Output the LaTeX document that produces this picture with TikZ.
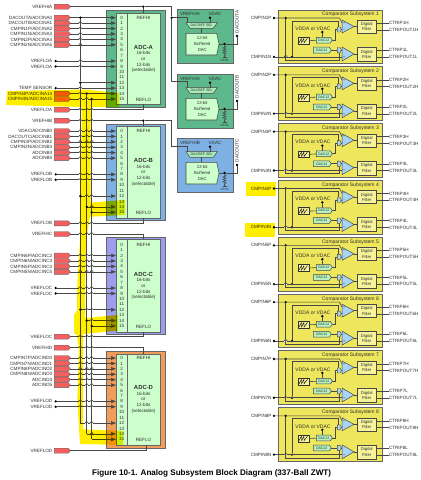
\documentclass[tikz,border=0pt]{standalone}
\usepackage{fontspec}
\setmainfont{Liberation Sans}
\usetikzlibrary{shapes.symbols,arrows.meta}
\definecolor{wirec}{HTML}{484848}
\definecolor{txtc}{HTML}{303030}
\definecolor{adcA}{HTML}{5DB88C}
\definecolor{adcB}{HTML}{7DB1E3}
\definecolor{adcC}{HTML}{9D9DF0}
\definecolor{adcD}{HTML}{F09D5A}
\definecolor{lgreen}{HTML}{CCFFCC}
\definecolor{pinred}{HTML}{F4605F}
\definecolor{pinorg}{HTML}{FF6A20}
\definecolor{subfill}{HTML}{EEE65C}
\definecolor{filtfill}{HTML}{F7F39A}
\definecolor{compfill}{HTML}{A8D4F6}
\definecolor{hl}{HTML}{FFEE00}
\tikzset{
  wire/.style={draw=wirec,line width=0.6pt},
  arr/.style={-{Stealth[length=5pt,width=3.6pt,inset=0pt]}},
  blockline/.style={draw=black!60,line width=0.8pt},
  pinnode/.style={signal,signal to=east,signal pointer angle=95,draw=black!60,line width=0.4pt,fill=pinred,minimum width=16pt,minimum height=5pt,inner sep=0pt,outer sep=0pt},
  dotn/.style={circle,fill=black,minimum size=2.6pt,inner sep=0pt,outer sep=0pt},
  lab/.style={inner sep=0pt,outer sep=0pt,text=txtc,font=\fontsize{4.6}{5}\selectfont},
  small/.style={inner sep=0pt,outer sep=0pt,text=txtc,font=\fontsize{4.6}{5}\selectfont},
  tiny/.style={inner sep=0pt,outer sep=0pt,text=txtc,font=\fontsize{3.5}{4}\selectfont},
  hlmark/.style={fill=hl,draw=none,blend mode=multiply},
}
\newcommand{\hopat}[2]{\fill[white] ({#1-1.6},{#2-0.6}) rectangle ({#1+1.6},{#2+0.6});
  \draw[wire] ({#1-1.6},{#2}) .. controls ({#1-1.6},{#2-2.1}) and ({#1+1.6},{#2-2.1}) .. ({#1+1.6},{#2});}
% ADC block: letter, top, bottom, inner top, inner bottom, y of channel 0, colour
\newcommand{\adcblock}[7]{
  \node[blockline,fill=#7,minimum width=59.3pt,minimum height={#3-#2},inner sep=0pt,anchor=north west] (out#1) at (105.7,#2) {};
  \node[blockline,fill=lgreen,minimum width=44pt,minimum height={#5-#4},inner sep=0pt,anchor=north west] (in#1) at (116,#4) {};
  \draw[blockline] (127.3,#4) -- (127.3,#5);
  \foreach \i in {0,...,15}{
    \pgfmathsetmacro\yy{#6+\i*5.42}
    \coordinate (#1-ch\i) at (116,\yy);
    \node[small] (#1-n\i) at (121.7,\yy) {\i};
  }
  \node[small] (#1-hi) at (143.5,{#6}) {REFHI};
  \node[inner sep=0pt,text=txtc,font=\fontsize{5.9}{6}\selectfont\bfseries] (#1-t) at (143.5,{#6+29.5}) {ADC-#1};
  \node[small] (#1-a) at (143.5,{#6+35.5}) {16-bits};
  \node[small] (#1-b) at (143.5,{#6+41.3}) {or};
  \node[small] (#1-c) at (143.5,{#6+47.2}) {12-bits};
  \node[small] (#1-d) at (143.5,{#6+53}) {(selectable)};
  \node[small] (#1-lo) at (143.5,{#6+81.8}) {REFLO};
}
\newcommand{\pinlab}[4][pinred]{
  \node[pinnode,fill=#1] (#2) at (61.3,{#3}) {};
  \node[lab,anchor=east] (#2-l) at (52.3,{#3}) {#4};
}
\newcommand{\dotlab}[3]{
  \node[dotn] (#1) at (55.7,{#2}) {};
  \node[lab,anchor=east] (#1-l) at (52.3,{#2}) {#3};
}
% DAC block: number, y shift, fill, vref label, output label
\newcommand{\dacblock}[5]{
  \begin{scope}[shift={(0,#2)}]
    \node[blockline,fill=#3,minimum width=55.4pt,minimum height=54pt,inner sep=0pt,anchor=north west] (dac#1) at (177.3,9.3) {};
    \node[small] (dac#1-r) at (190,13.5) {#4};
    \node[small] (dac#1-v) at (215,13.5) {VDAC};
    \node[dotn] (dac#1-vd) at (210,17.7) {};
    \coordinate (dac#1-mt) at (186.8,22.7);
    \coordinate (dac#1-mv) at (210,22.7);
    \filldraw[wirec,fill=lgreen!70!adcA,line width=0.5pt] (186,22.7) -- (217.3,22.7) -- (213.3,28.3) -- (190,28.3) -- cycle;
    \node[tiny] (dac#1-s) at (201.7,25.5) {DACREF SEL};
    \draw[wire] (dac#1-vd) -- (dac#1-mv);
    \draw[wire] (201.7,28.3) -- (201.7,33.3);
    \filldraw[wirec,fill=lgreen,line width=0.55pt] (186,33.3) -- (216.7,33.3) -- (219,44) -- (216.7,55) -- (186,55) -- cycle;
    \node[inner sep=0pt,text=txtc,align=center,font=\fontsize{4.3}{6.2}\selectfont] (dac#1-b) at (202.3,44) {12-bit\\Buffered\\DAC};
    \node[dotn] (dac#1-o) at (224.5,44) {};
    \node[dotn] (dac#1-p) at (237,36) {};
    \draw[wire] (219,44) -- (dac#1-o) -- (237,44) -- (dac#1-p);
    \node[inner sep=0pt,text=txtc,rotate=90,anchor=west,font=\fontsize{4.7}{5}\selectfont] (dac#1-q) at (237,33.5) {#5};
    \draw[wire] (dac#1-o) -- (224.5,46) -- (226,46.8) -- (223,48) -- (226,49.2) -- (223,50.4) -- (226,51.6) -- (223,52.8) -- (226,54) -- (224.5,55) -- (224.5,57.5);
    \draw[wire] (222.5,57.5) -- (226.5,57.5);
    \node[inner sep=0pt,text=txtc,font=\fontsize{3.1}{4}\selectfont] (dac#1-g) at (224.5,60.8) {VSSA};
  \end{scope}
}
% comparator subsystem: number, y shift
\newcommand{\cmpss}[2]{
  \begin{scope}[shift={(0,#2)}]
    \node[blockline,fill=subfill,minimum width=103.7pt,minimum height=53.8pt,inner sep=0pt,anchor=north west] (cs#1) at (278,9.5) {};
    \node[inner sep=0pt,text=txtc,anchor=east,font=\fontsize{5}{6}\selectfont] (cs#1-t) at (379,14.7) {Comparator Subsystem #1};
    \node[dotn] (cs#1-p) at (274,18) {};
    \node[dotn] (cs#1-n) at (274,56.8) {};
    \node[lab,anchor=east] (cs#1-pl) at (271.5,18) {CMPIN#1P};
    \node[lab,anchor=east] (cs#1-nl) at (271.5,56.8) {CMPIN#1N};
    \node[dotn] (cs#1-a) at (285.7,18) {};
    \node[dotn] (cs#1-b) at (292,56.8) {};
    \draw[wire] (cs#1-p) -- (339.5,18) -- (342,23);
    \draw[wire] (cs#1-n) -- (342,56.8);
    \hopat{285.7}{56.8}
    \draw[wire] (cs#1-a) -- (285.7,60) -- (339,60) -- (339,53);
    \draw[wire] (cs#1-b) -- (292,20.8) -- (338.5,20.8) -- (338.5,27);
    \draw[wire] (332.3,40) -- (335,40) -- (335,29.5) -- (337.3,29.5);
    \draw[wire] (331.3,50) -- (337.3,50);
    \filldraw[wirec,fill=compfill,line width=0.45pt] (337.3,27) -- (340,27) -- (341.3,29.5) -- (340,32) -- (337.3,32) -- cycle;
    \filldraw[wirec,fill=compfill,line width=0.45pt] (337.3,47.5) -- (340,47.5) -- (341.3,50) -- (340,52.8) -- (337.3,52.8) -- cycle;
    \draw[wire] (341.3,29.5) -- (342.5,29.5);
    \draw[wire] (341.3,50) -- (342.5,50);
    \filldraw[wirec,fill=compfill,line width=0.5pt] (342,20) -- (354,26.5) -- (342,33) -- cycle;
    \filldraw[wirec,fill=compfill,line width=0.5pt] (342,47) -- (354,54) -- (342,61) -- cycle;
    \node[tiny] (cs#1-s1) at (344.2,23.3) {+};
    \node[tiny] (cs#1-s2) at (344.2,29.7) {-};
    \node[tiny] (cs#1-s3) at (344.2,50.3) {-};
    \node[tiny] (cs#1-s4) at (344.2,57.3) {+};
    \draw[wire] (354,26.5) -- (357,26.5);
    \draw[wire] (354,54) -- (357,54);
    \node[draw=wirec,line width=0.5pt,fill=filtfill,minimum width=19.5pt,minimum height=13pt,inner sep=0pt,anchor=north west,align=center,text=txtc,font=\fontsize{4.2}{5.4}\selectfont] (cs#1-f1) at (356.7,20) {Digital\\Filter};
    \node[draw=wirec,line width=0.5pt,fill=filtfill,minimum width=19.5pt,minimum height=14pt,inner sep=0pt,anchor=north west,align=center,text=txtc,font=\fontsize{4.2}{5.4}\selectfont] (cs#1-f2) at (356.7,47) {Digital\\Filter};
    \node[lab,anchor=west] (cs#1-o1) at (389,23) {CTRIP#1H};
    \node[lab,anchor=west] (cs#1-o2) at (389,29.8) {CTRIPOUT#1H};
    \node[lab,anchor=west] (cs#1-o3) at (389,50.2) {CTRIP#1L};
    \node[lab,anchor=west] (cs#1-o4) at (389,57) {CTRIPOUT#1L};
    \draw[wire] (376.2,23) -- (cs#1-o1.west);
    \draw[wire] (376.2,29.8) -- (cs#1-o2.west);
    \draw[wire] (376.2,50.2) -- (cs#1-o3.west);
    \draw[wire] (376.2,57) -- (cs#1-o4.west);
    \node[inner sep=0pt,text=txtc,font=\fontsize{5}{6}\selectfont] (cs#1-v) at (313,28.6) {VDDA or VDAC};
    \node[dotn] (cs#1-vd) at (322.3,32) {};
    \draw[wire] (cs#1-vd) -- (322.3,37.3);
    \node[draw=black!80,line width=0.5pt,fill=filtfill,minimum width=10.5pt,minimum height=6.8pt,inner sep=0pt,anchor=north west] (cs#1-r) at (298,37) {};
    \draw[black,line width=0.45pt] (299,42.8) -- (301.5,38.3) -- (301.5,42.8) -- (304,38.3) -- (304,42.8) -- (307.5,38.3);
    \draw[wire] (cs#1-r.east) -- (316.3,40.3);
    \filldraw[wirec,fill=lgreen!80!adcA,line width=0.5pt] (316.3,37.3) -- (330.3,37.3) -- (332.3,40) -- (330.3,43) -- (316.3,43) -- cycle;
    \node[tiny] (cs#1-d1) at (323.7,40.2) {DAC12};
    \filldraw[wirec,fill=lgreen!80!adcA,line width=0.5pt] (313.3,47.2) -- (329.3,47.2) -- (331.3,50) -- (329.3,53) -- (313.3,53) -- cycle;
    \node[tiny] (cs#1-d2) at (321.7,50.2) {DAC12};
  \end{scope}
}
\begin{document}
\begin{tikzpicture}[x=1pt,y=-1pt]
\useasboundingbox (0,0) rectangle (421,480);
\fill[white] (0,0) rectangle (421,480);

% ADC blocks
\adcblock{A}{10}{106.7}{12.7}{104.3}{17.7}{adcA}
\adcblock{B}{124}{220}{126.3}{217.7}{131}{adcB}
\adcblock{C}{236.7}{334.3}{239.3}{331.7}{244.7}{adcC}
\adcblock{D}{351}{448}{353.5}{445}{358}{adcD}

% ADC-A inputs
\pinlab{vha}{6.7}{VREFHIA}
\foreach \n/\c/\t in {a0/0/DACOUTA\slash ADCINA0,a1/1/DACOUTB\slash ADCINA1,a2/2/CMPIN1P\slash ADCINA2,a3/3/CMPIN1N\slash ADCINA3,a4/4/CMPIN2P\slash ADCINA4,a5/5/CMPIN2N\slash ADCINA5}{
  \pgfmathsetmacro\yy{17.7+\c*5.42}
  \pinlab{\n}{\yy}{\t}
  \draw[wire,arr] (\n.east) -- (A-ch\c);
}
\foreach \n/\c in {ra8/8,ra9/9}{
  \pgfmathsetmacro\yy{17.7+\c*5.42}
  \dotlab{\n}{\yy}{VREFLOA}
  \draw[wire,arr] (\n) -- (A-ch\c);
}
\pgfmathsetmacro\yy{17.7+13*5.42}
\dotlab{ts}{\yy}{TEMP SENSOR}
\draw[wire,arr] (ts) -- (A-ch13);
\pgfmathsetmacro\yy{17.7+14*5.42}
\pinlab[pinred]{a14}{\yy}{CMPIN4P\slash ADCINA14}
\draw[wire,arr] (a14.east) -- (A-ch14);
\pgfmathsetmacro\yy{17.7+15*5.42}
\pinlab[pinorg]{a15}{\yy}{CMPIN4N\slash ADCINA15}
\draw[wire,arr] (a15.east) -- (A-ch15);
\pinlab{vla}{109.7}{VREFLOA}
\draw[wire] (vla.east) -- (143.3,109.7) -- (143.3,104.3);

% ADC-B inputs
\pinlab{vhb}{120.7}{VREFHIB}
\foreach \n/\c/\t in {b0/0/VDAC\slash ADCINB0,b1/1/DACOUTC\slash ADCINB1,b2/2/CMPIN3P\slash ADCINB2,b3/3/CMPIN3N\slash ADCINB3,b4/4/ADCINB4,b5/5/ADCINB5}{
  \pgfmathsetmacro\yy{131+\c*5.42}
  \pinlab{\n}{\yy}{\t}
  \draw[wire,arr] (\n.east) -- (B-ch\c);
}
\foreach \n/\c in {rb8/8,rb9/9}{
  \pgfmathsetmacro\yy{131+\c*5.42}
  \dotlab{\n}{\yy}{VREFLOB}
  \draw[wire,arr] (\n) -- (B-ch\c);
}
\pinlab{vlb}{223.3}{VREFLOB}
\draw[wire] (vlb.east) -- (143.3,223.3) -- (143.3,217.7);

% ADC-C inputs
\pinlab{vhc}{234}{VREFHIC}
\draw[wire] (vhc.east) -- (143.3,234) -- (143.3,239.3);
\foreach \n/\c/\t in {c2/2/CMPIN6P\slash ADCINC2,c3/3/CMPIN6N\slash ADCINC3,c4/4/CMPIN5P\slash ADCINC4,c5/5/CMPIN5N\slash ADCINC5}{
  \pgfmathsetmacro\yy{244.7+\c*5.42}
  \pinlab{\n}{\yy}{\t}
  \draw[wire,arr] (\n.east) -- (C-ch\c);
}
\foreach \n/\c in {rc8/8,rc9/9}{
  \pgfmathsetmacro\yy{244.7+\c*5.42}
  \dotlab{\n}{\yy}{VREFLOC}
  \draw[wire,arr] (\n) -- (C-ch\c);
}
\pinlab{vlc}{336.7}{VREFLOC}
\draw[wire] (vlc.east) -- (143.3,336.7) -- (143.3,331.7);

% ADC-D inputs
\pinlab{vhd}{347.7}{VREFHID}
\draw[wire] (vhd.east) -- (143.3,347.7) -- (143.3,353.5);
\foreach \n/\c/\t in {d0/0/CMPIN7P\slash ADCIND0,d1/1/CMPIN7N\slash ADCIND1,d2/2/CMPIN8P\slash ADCIND2,d3/3/CMPIN8N\slash ADCIND3,d4/4/ADCIND4,d5/5/ADCIND5}{
  \pgfmathsetmacro\yy{358+\c*5.42}
  \pinlab{\n}{\yy}{\t}
  \draw[wire,arr] (\n.east) -- (D-ch\c);
}
\foreach \n/\c in {rd8/8,rd9/9}{
  \pgfmathsetmacro\yy{358+\c*5.42}
  \dotlab{\n}{\yy}{VREFLOD}
  \draw[wire,arr] (\n) -- (D-ch\c);
}
\pinlab{vld}{450.7}{VREFLOD}
\draw[wire] (vld.east) -- (146,450.7) -- (146,445);

% DAC blocks
\dacblock{1}{0}{adcA}{VREFHIA}{DACOUTA}
\dacblock{2}{65}{adcA}{VREFHIA}{DACOUTB}
\dacblock{3}{129}{adcB}{VREFHIB}{DACOUTC}

% reference routing
\node[dotn] (ha) at (143.3,6.7) {};
\node[dotn] (hb) at (143.3,120.7) {};
\node[dotn] (hr) at (171.7,17.7) {};
\draw[wire] (vha.east) -- (ha) -- (171.7,6.7) -- (hr) -- (171.7,81) -- (186.8,81) -- (dac2-mt);
\draw[wire] (ha) -- (143.3,12.7);
\draw[wire] (hr) -- (186.8,17.7) -- (dac1-mt);
\draw[wire] (vhb.east) -- (hb) -- (171.7,120.7) -- (171.7,146.7) -- (186.8,146.7) -- (dac3-mt);
\draw[wire] (hb) -- (143.3,126.3);

% bus stubs to channels
\foreach \k/\bx/\yo in {A/80.3/17.7,B/80.3/131,C/80.3/244.7,D/80.3/358}{
  \pgfmathsetmacro\yy{\yo+12*5.42}
  \coordinate (\k-s12) at (\bx,\yy);
  \draw[wire,arr] (\k-s12) -- (\k-ch12);
}
\foreach \k/\yo in {B/131,C/244.7,D/358}{
  \pgfmathsetmacro\yy{\yo+14*5.42}
  \coordinate (\k-s14) at (86.7,\yy);
  \draw[wire,arr] (\k-s14) -- (\k-ch14);
  \pgfmathsetmacro\yy{\yo+15*5.42}
  \coordinate (\k-s15) at (91.7,\yy);
  \draw[wire,arr] (\k-s15) -- (\k-ch15);
}

% crossings
\foreach \c in {1,2,3,4,5,8,9,13,14,15}{\pgfmathsetmacro\yy{17.7+\c*5.42}\hopat{80.3}{\yy}}
\pgfmathsetmacro\yy{17.7+15*5.42}\hopat{86.7}{\yy}
\foreach \yy in {109.7,120.7,223.3,234,336.7,347.7}{\hopat{80.3}{\yy}\hopat{86.7}{\yy}\hopat{91.7}{\yy}}
\foreach \o/\l in {131/{0,1,2,3,4,5,8,9},244.7/{2,3,4,5,8,9},358/{0,1,2,3,4,5,8,9}}{
  \foreach \c in \l{\pgfmathsetmacro\yy{\o+\c*5.42}\hopat{80.3}{\yy}\hopat{86.7}{\yy}\hopat{91.7}{\yy}}
  \pgfmathsetmacro\yy{\o+12*5.42}\hopat{86.7}{\yy}\hopat{91.7}{\yy}
  \pgfmathsetmacro\yy{\o+14*5.42}\hopat{91.7}{\yy}
}

% shared buses
\pgfmathsetmacro\yya{17.7+14*5.42}
\pgfmathsetmacro\yyb{17.7+15*5.42}
\node[dotn] (bt0) at (80.3,17.7) {};
\node[dotn] (bt1) at (A-s12) {};
\node[dotn] (bt2) at (86.7,\yya) {};
\node[dotn] (bt3) at (91.7,\yyb) {};
\draw[wire] (bt0) -- (bt1) -- (D-s12);
\draw[wire] (bt2) -- (B-s14) -- (C-s14) -- (D-s14);
\draw[wire] (bt3) -- (B-s15) -- (C-s15) -- (D-s15);
\foreach \k in {B,C}{
  \node[dotn] at (\k-s12) {};
  \node[dotn] at (\k-s14) {};
  \node[dotn] at (\k-s15) {};
}

% comparator subsystems
\foreach \n in {1,...,8}{
  \pgfmathsetmacro\sh{(\n-1)*56.83}
  \cmpss{\n}{\sh}
}

% caption
\node[inner sep=0pt,anchor=west,text=black,font=\fontsize{8.1}{9}\selectfont\bfseries] (cap) at (92,473) {Figure 10-1. Analog Subsystem Block Diagram (337-Ball ZWT)};

% yellow highlights
\fill[hlmark] (7,91) -- (85,89.5) -- (119,93) -- (119,107) -- (91,107) -- (90.7,125) -- (90.7,202.5) -- (125,200) -- (125,215) -- (90,216.7)
  -- (86,240) -- (85,290) -- (85,318) -- (118,315) -- (118,330.7) -- (83,334) -- (83,350) -- (83,429.3) -- (123,431) -- (123,445) -- (80,444)
  -- (77.3,400) -- (79,350) -- (77,335) -- (74,333) -- (74,315) -- (77,310) -- (77,290) -- (80,240) -- (81.7,125) -- (81.7,107) -- (6,105) -- cycle;
\fill[hlmark] (246,182) -- (276,182) -- (276,196) -- (246,196) -- cycle;
\fill[hlmark] (245,222.5) -- (275,222.5) -- (275,236.7) -- (245,236.7) -- cycle;
\end{tikzpicture}
\end{document}
